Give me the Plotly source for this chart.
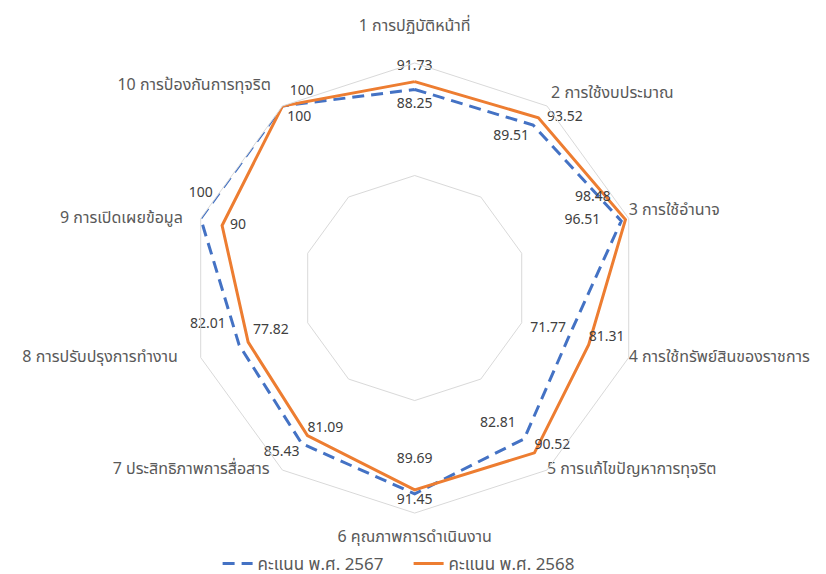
import plotly.graph_objects as go

categories = [
    "1 การปฏิบัติหน้าที่",
    "2 การใช้งบประมาณ",
    "3 การใช้อำนาจ",
    "4 การใช้ทรัพย์สินของราชการ",
    "5 การแก้ไขปัญหาการทุจริต",
    "6 คุณภาพการดำเนินงาน",
    "7 ประสิทธิภาพการสื่อสาร",
    "8 การปรับปรุงการทำงาน",
    "9 การเปิดเผยข้อมูล",
    "10 การป้องกันการทุจริต",
]
series_names = ["คะแนน พ.ศ. 2567", "คะแนน พ.ศ. 2568"]
scores_2567 = [88.25, 89.51, 96.51, 71.77, 82.81, 91.45, 85.43, 82.01, 100, 100]
scores_2568 = [91.73, 93.52, 98.48, 81.31, 90.52, 89.69, 81.09, 77.82, 90, 100]
R_MIN, R_MAX, R_STEP = 0, 100, 50

# label placement (style only)
pos_2567 = ["bottom center", "bottom left", "middle left", "top left", "top left",
            "bottom center", "bottom left", "top left", "top center", "top right"]
pos_2568 = ["top center", "middle right", "top left", "top right", "top right",
            "top center", "top right", "top right", "middle right", "bottom right"]
pos_cat = ["top center", "top right", "top right", "middle right", "middle right",
           "bottom center", "middle left", "middle left", "middle left", "top left"]
# invisible marker sizes used to push labels away from the vertices
gap_2567 = [12, 5, 32, 2, 12, 0, 2, 20, 28, 10]
gap_2568 = [11, 12, 22, 0, 0, 35, 0, 6, 11, 6]
gap_cat = [43, 5, 0, 0, 0, 26, 19, 35, 27, 17]

FONT = "Tahoma, 'Noto Sans Thai', 'Leelawadee UI', 'DejaVu Sans', sans-serif"
CLEAR = "rgba(0,0,0,0)"

def closed(v):
    return list(v) + [v[0]]

def series(values, name, pos, gap, line):
    return go.Scatterpolar(
        r=closed(values), theta=closed(categories), name=name,
        mode="lines+markers+text",
        text=[f"{v:g}" for v in values] + [""],
        textposition=pos + ["middle center"],
        textfont=dict(size=14, color="#404040", family=FONT),
        marker=dict(size=gap + [0], color=CLEAR, line=dict(width=0, color=CLEAR)),
        line=line,
        cliponaxis=False,
        hoverinfo="r+theta+name",
    )

fig = go.Figure()
fig.add_trace(series(scores_2567, series_names[0], pos_2567, gap_2567,
                     dict(color="#4472C4", width=3, dash="12px,7px")))
fig.add_trace(series(scores_2568, series_names[1], pos_2568, gap_2568,
                     dict(color="#ED7D31", width=3)))
# category labels placed at the outer ring of the radial axis
fig.add_trace(go.Scatterpolar(
    r=[R_MAX] * len(categories), theta=categories, mode="markers+text",
    text=categories, textposition=pos_cat,
    textfont=dict(size=16, color="#595959", family=FONT),
    marker=dict(size=gap_cat, color=CLEAR, line=dict(width=0, color=CLEAR)),
    showlegend=False, hoverinfo="skip", cliponaxis=False,
))

cx, cy, R = 406.7, 282.5, 227
W, H = 826, 574
fig.update_layout(
    width=W, height=H,
    margin=dict(l=0, r=0, t=0, b=0),
    paper_bgcolor="white",
    font=dict(family=FONT, color="#595959", size=16),
    showlegend=True,
    legend=dict(orientation="h", x=0.485, xanchor="center", y=0.022, yanchor="middle",
                font=dict(size=17, color="#595959"),
                entrywidth=146, entrywidthmode="pixels"),
    polar=dict(
        domain=dict(x=[(cx - R) / W, (cx + R) / W], y=[(H - cy - R) / H, (H - cy + R) / H]),
        gridshape="linear",
        bgcolor="white",
        radialaxis=dict(range=[R_MIN, R_MAX], dtick=R_STEP, showticklabels=False, ticks="",
                        showline=False, gridcolor="#d9d9d9", gridwidth=1),
        angularaxis=dict(rotation=90, direction="clockwise", showgrid=False,
                         showline=True, linecolor="#d9d9d9", linewidth=1, ticks="",
                         showticklabels=False),
    ),
)
fig.write_html("out.html")
